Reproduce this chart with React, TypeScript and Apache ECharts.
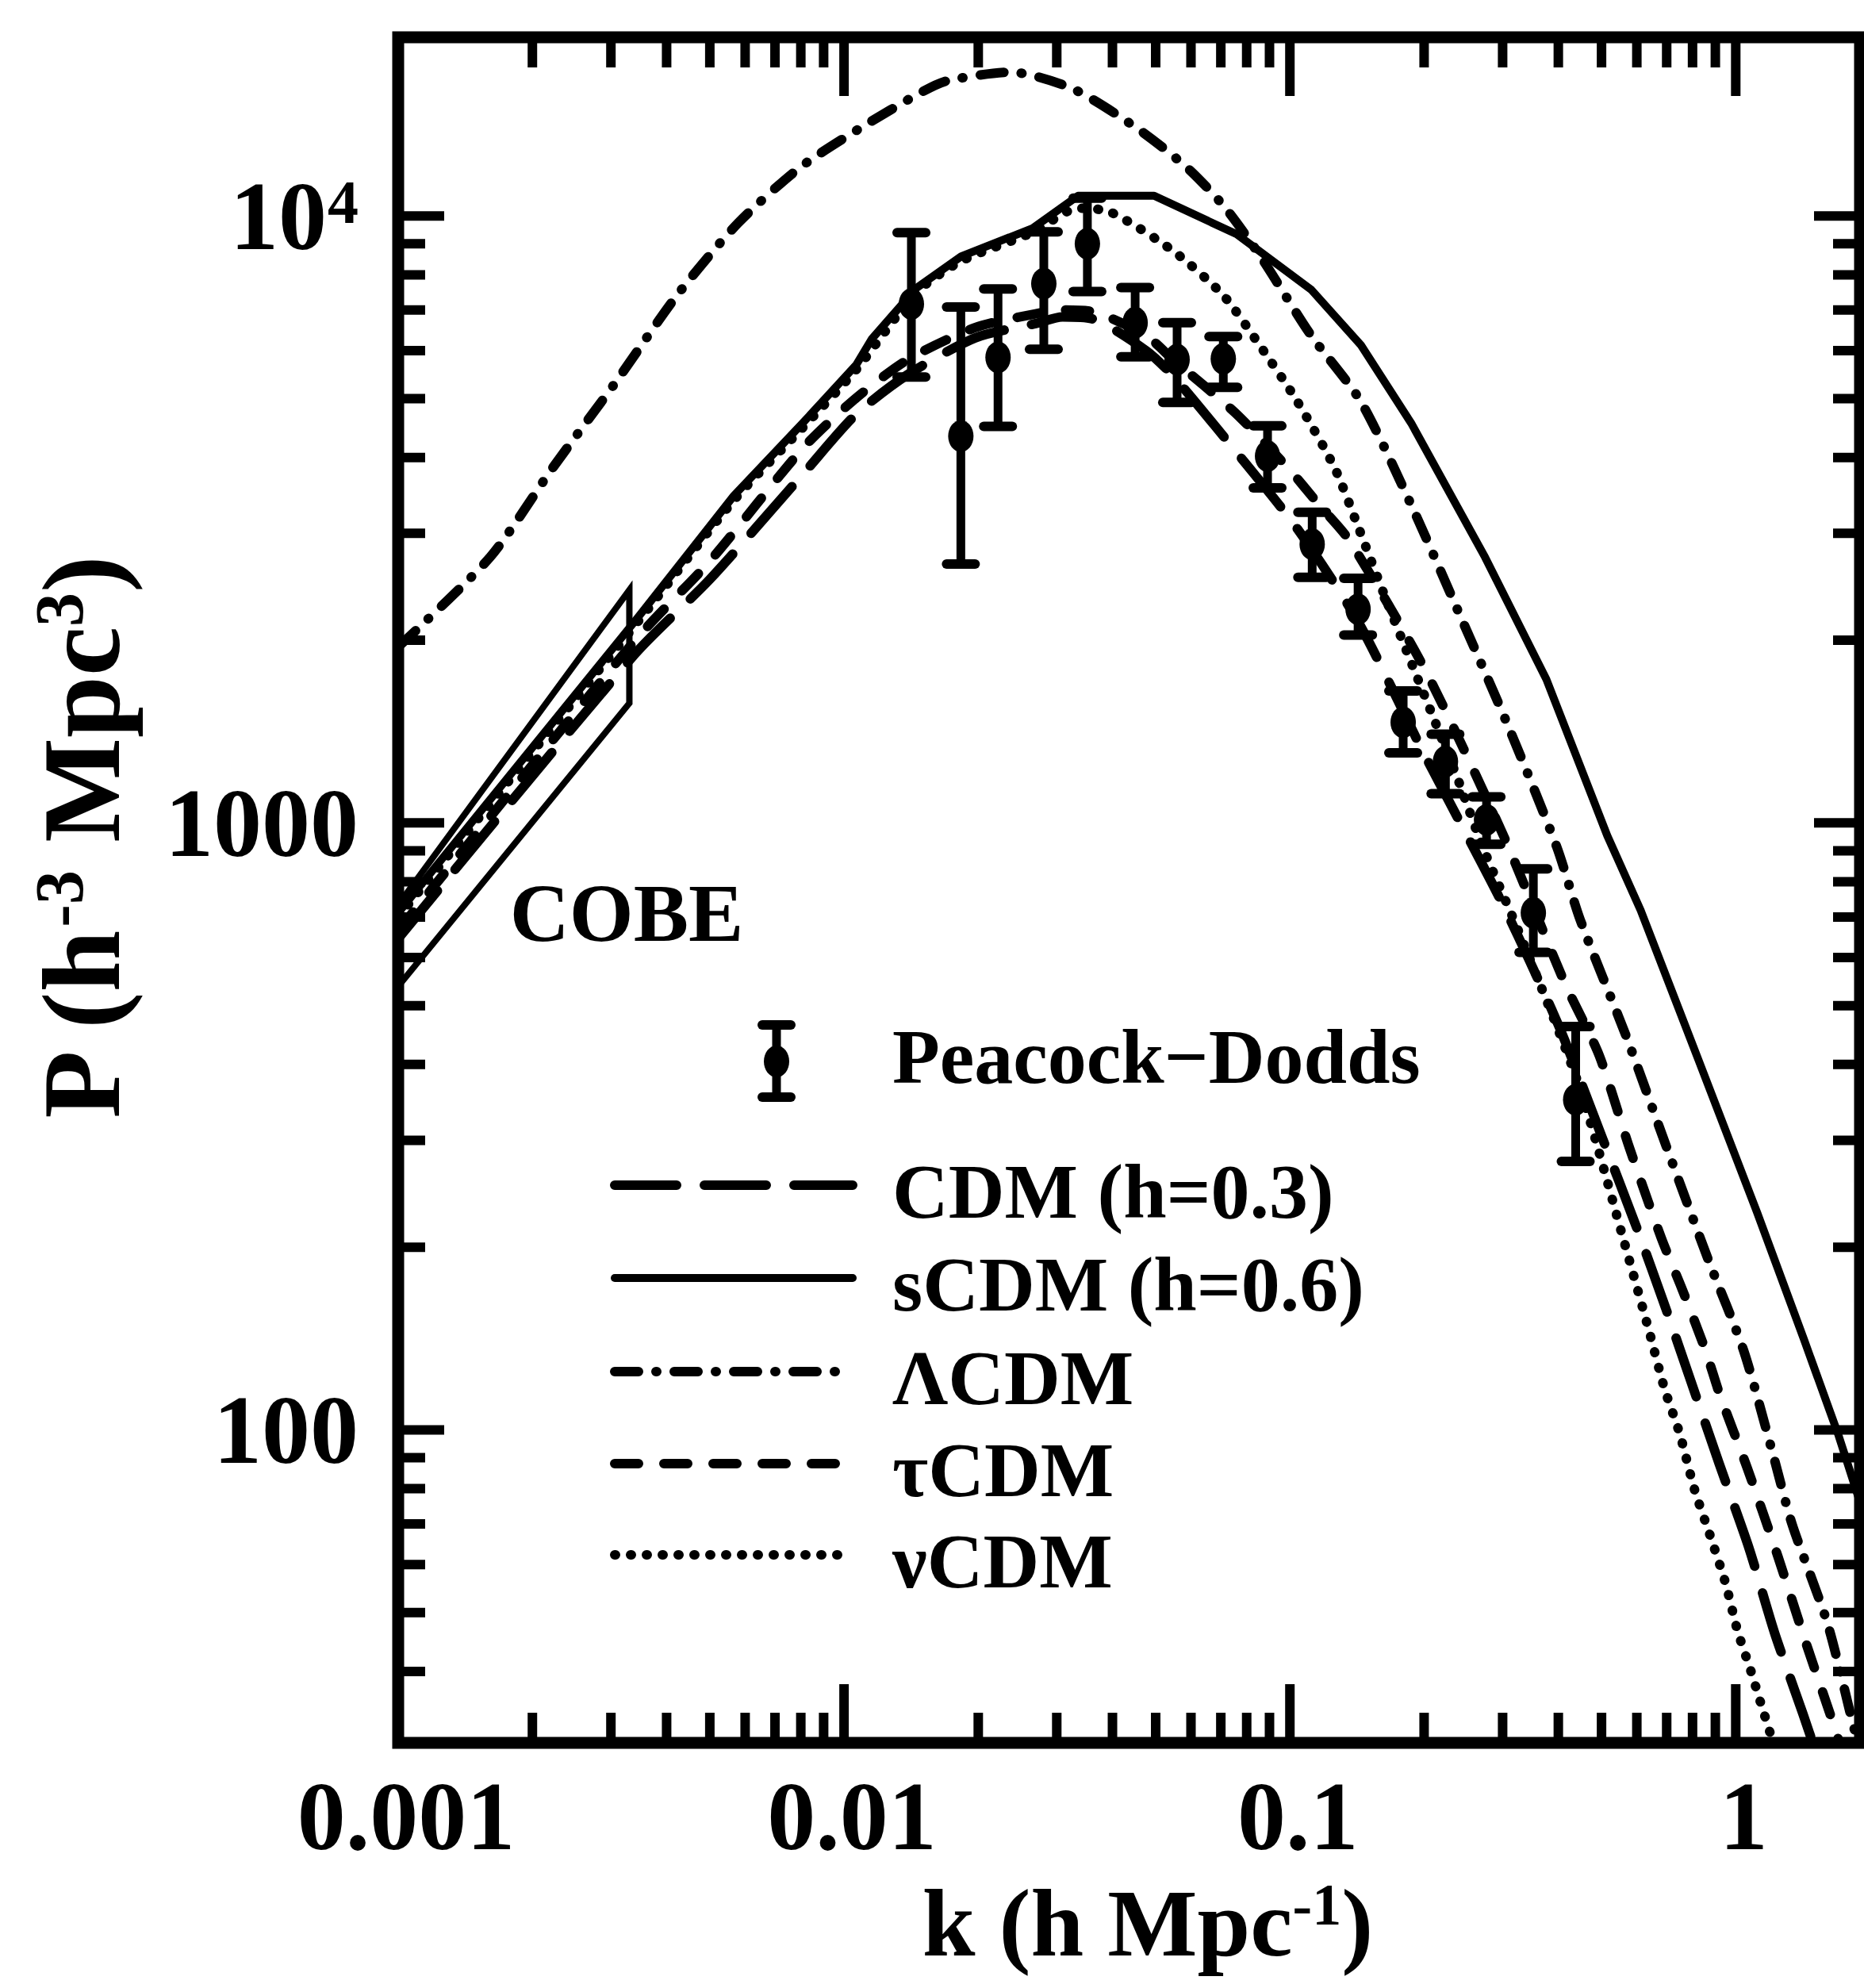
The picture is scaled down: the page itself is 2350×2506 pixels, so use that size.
import React, { useEffect, useRef } from 'react';
import * as echarts from 'echarts';

const FONT = '"Liberation Serif", "Times New Roman", serif';

// ---- axis ranges ----
const X_MIN = 0.001;
const X_MAX = 1.9;
const Y_MIN = 30.5;
const Y_MAX = 19700;

// ---- ticks and tick labels ----
const xMajorTicks = [0.001, 0.01, 0.1, 1];
const xMajorLabels = ['0.001', '0.01', '0.1', '1'];
const xMinorTicks = [0.002, 0.003, 0.004, 0.005, 0.006, 0.007, 0.008, 0.009, 0.02, 0.03, 0.04, 0.05, 0.06, 0.07, 0.08, 0.09, 0.2, 0.3, 0.4, 0.5, 0.6, 0.7, 0.8, 0.9];
const yMajorTicks = [100, 1000, 10000];
const yMajorLabelBase = ['100', '1000', '10'];
const yMajorLabelExp = ['', '', '4'];
const yMinorTicks = [40, 50, 60, 70, 80, 90, 200, 300, 400, 500, 600, 700, 800, 900, 2000, 3000, 4000, 5000, 6000, 7000, 8000, 9000];

// ---- Peacock-Dodds data points ----
const pdK = [0.01416, 0.01828, 0.02215, 0.02806, 0.03514, 0.04497, 0.05585, 0.0709, 0.0891, 0.1122, 0.1422, 0.1795, 0.2233, 0.2761, 0.3516, 0.4375];
const pdP = [7160, 4340, 5850, 7740, 9000, 6670, 5800, 5820, 4020, 2880, 2250, 1465, 1262, 1012, 711, 350];
const pdLo = [5430, 2670, 4500, 6030, 7510, 5860, 4930, 5220, 3565, 2540, 2040, 1305, 1117, 922, 612, 277];
const pdHi = [9390, 7080, 7580, 9420, 10700, 7620, 6670, 6330, 4510, 3250, 2530, 1650, 1400, 1104, 840, 462];

// ---- COBE box ----
const cobeK = [0.001, 0.0033, 0.0033, 0.001];
const cobeP = [733, 2420, 1575, 538];

// ---- model curves ----
const sCdmK = [0.001, 0.00344, 0.00566, 0.00808, 0.01064, 0.01154, 0.01453, 0.01832, 0.02651, 0.0335, 0.0496, 0.076, 0.1117, 0.1445, 0.187, 0.274, 0.376, 0.515, 0.612, 0.828, 1.117, 1.422, 1.70, 1.9];
const sCdmP = [711, 2175, 3460, 4560, 5680, 6270, 7610, 8580, 9550, 10800, 10800, 9330, 7560, 6120, 4560, 2740, 1725, 953, 718, 404, 228, 141, 98, 76];

const lCdmK = [0.001, 0.001607, 0.002223, 0.00305, 0.00422, 0.00578, 0.00794, 0.01089, 0.01493, 0.01702, 0.02364, 0.03267, 0.04535, 0.05875, 0.0712, 0.0859, 0.1112, 0.1439, 0.1858, 0.2393, 0.3073, 0.3966, 0.448, 0.568, 0.700, 0.867, 1.042, 1.208, 1.337, 1.607, 1.833, 1.9];
const lCdmP = [1950, 2740, 3850, 5280, 7400, 9730, 12000, 13970, 16000, 16700, 17260, 16190, 13960, 12020, 10370, 8580, 6380, 4960, 3380, 2220, 1456, 914, 692, 445, 292, 191, 135, 92, 70, 47.9, 32.7, 29.5];

const nuCdmK = [0.001, 0.00344, 0.00566, 0.00808, 0.01064, 0.01453, 0.01832, 0.02651, 0.0335, 0.0396, 0.0547, 0.0709, 0.0856, 0.1037, 0.1259, 0.1429, 0.163, 0.185, 0.21, 0.238, 0.2705, 0.3266, 0.4446, 0.561, 0.64, 0.692, 0.748, 0.808, 0.877, 0.948, 1.009, 1.082, 1.136, 1.202, 1.26];
const nuCdmP = [700, 2140, 3400, 4480, 5580, 7480, 8430, 9400, 10300, 10150, 8760, 7400, 6120, 4960, 3850, 3050, 2370, 1877, 1489, 1181, 914, 660, 370, 205, 145, 117, 98.8, 79.8, 66.8, 56, 46.7, 40, 35.6, 31.2, 28];

const cdmK = [0.001, 0.0034, 0.005, 0.0081, 0.0106, 0.0139, 0.0197, 0.0269, 0.0309, 0.0363, 0.0476, 0.0547, 0.0776, 0.104, 0.142, 0.2, 0.3, 0.4, 0.5, 0.6, 0.7, 0.794, 0.918, 1.072, 1.222, 1.416, 1.6];
const cdmP = [645, 1900, 2520, 3760, 4700, 5480, 6300, 6650, 6820, 6760, 6000, 5450, 4000, 3050, 2150, 1300, 735, 465, 305, 215, 157, 120, 88, 63.7, 46.3, 34, 26];

const tauCdmK = [0.001, 0.0034, 0.005, 0.0081, 0.0106, 0.0139, 0.0197, 0.0269, 0.0309, 0.0363, 0.0476, 0.0547, 0.0754, 0.0995, 0.1164, 0.1355, 0.2, 0.3, 0.413, 0.494, 0.578, 0.681, 0.757, 0.853, 0.922, 1.059, 1.242, 1.435, 1.683, 1.85];
const tauCdmP = [665, 2000, 2700, 4150, 5000, 5800, 6550, 6900, 7000, 6950, 6350, 5800, 4740, 3830, 3340, 2930, 1800, 960, 546, 414, 291, 207, 171, 136, 114, 86.9, 62, 44.7, 31.6, 25];

// ---- legend ----
const legendLabels = ['CDM (h=0.3)', 'sCDM (h=0.6)', 'ΛCDM', 'τCDM', 'νCDM'];
const pdLabel = 'Peacock−Dodds';

const DASH_CDM = [78, 35];
const DASH_L = [30, 22, 1, 22];
const DASH_TAU = [30, 32];
const DASH_NU = [1, 19];

function pairs(ks: number[], ps: number[]) {
  return ks.map((k, i) => [k, ps[i]]);
}

function lineSeries(name: string, ks: number[], ps: number[], width: number, type: any, smooth: number | boolean) {
  return {
    type: 'line',
    name,
    data: pairs(ks, ps),
    showSymbol: false,
    symbol: 'none',
    smooth,
    silent: true,
    clip: true,
    z: 3,
    lineStyle: { color: '#000', width, type, cap: 'round', join: 'round' },
  };
}

function buildOption() {
  const tickStyle = { stroke: '#000', lineWidth: 12 };
  const textBase = { fill: '#000', fontFamily: FONT, fontWeight: 'bold' };

  const series: any[] = [
    {
      type: 'line',
      name: 'COBE',
      data: pairs(cobeK, cobeP),
      showSymbol: false,
      symbol: 'none',
      silent: true,
      z: 3,
      lineStyle: { color: '#000', width: 8, join: 'miter' },
    },
    lineSeries('ΛCDM', lCdmK, lCdmP, 12, DASH_L, 0.25),
    lineSeries('νCDM', nuCdmK, nuCdmP, 12, DASH_NU, 0.25),
    lineSeries('τCDM', tauCdmK, tauCdmP, 12, DASH_TAU, 0.25),
    lineSeries('CDM (h=0.3)', cdmK, cdmP, 12, DASH_CDM, 0.25),
    lineSeries('sCDM (h=0.6)', sCdmK, sCdmP, 10, 'solid', false),
    {
      type: 'custom',
      name: 'Peacock-Dodds',
      coordinateSystem: 'cartesian2d',
      silent: true,
      clip: false,
      z: 5,
      data: pdK.map((k, i) => [k, pdP[i], pdLo[i], pdHi[i]]),
      encode: { x: 0, y: [1, 2, 3] },
      renderItem: (params: any, api: any) => {
        const k = api.value(0);
        const c = api.coord([k, api.value(1)]);
        const lo = api.coord([k, api.value(2)]);
        const hi = api.coord([k, api.value(3)]);
        return {
          type: 'group',
          children: [
            { type: 'line', shape: { x1: c[0], y1: hi[1], x2: c[0], y2: lo[1] }, style: { stroke: '#000', lineWidth: 11 } },
            { type: 'line', shape: { x1: c[0] - 18, y1: hi[1], x2: c[0] + 18, y2: hi[1] }, style: { stroke: '#000', lineWidth: 12, lineCap: 'round' } },
            { type: 'line', shape: { x1: c[0] - 18, y1: lo[1], x2: c[0] + 18, y2: lo[1] }, style: { stroke: '#000', lineWidth: 12, lineCap: 'round' } },
            { type: 'ellipse', shape: { cx: c[0], cy: c[1], rx: 16, ry: 20 }, style: { fill: '#000' } },
          ],
        };
      },
    },
    {
      type: 'custom',
      coordinateSystem: 'cartesian2d',
      silent: true,
      clip: false,
      z: 6,
      data: xMinorTicks.map((v) => [v, 1000, 0]).concat(xMajorTicks.map((v) => [v, 1000, 1])),
      encode: { x: 0, y: 1 },
      renderItem: (params: any, api: any) => {
        const v = api.value(0);
        const major = api.value(2) === 1;
        const b = api.coord([v, Y_MIN]);
        const t = api.coord([v, Y_MAX]);
        const len = major ? 74 : 38;
        return {
          type: 'group',
          children: [
            { type: 'line', shape: { x1: b[0], y1: b[1], x2: b[0], y2: b[1] - len }, style: tickStyle },
            { type: 'line', shape: { x1: t[0], y1: t[1], x2: t[0], y2: t[1] + len }, style: tickStyle },
          ],
        };
      },
    },
    {
      type: 'custom',
      coordinateSystem: 'cartesian2d',
      silent: true,
      clip: false,
      z: 6,
      data: yMinorTicks.map((v) => [0.01, v, 0]).concat(yMajorTicks.map((v) => [0.01, v, 1])),
      encode: { x: 0, y: 1 },
      renderItem: (params: any, api: any) => {
        const v = api.value(1);
        const major = api.value(2) === 1;
        const l = api.coord([X_MIN, v]);
        const r = api.coord([X_MAX, v]);
        const len = major ? 58 : 34;
        return {
          type: 'group',
          children: [
            { type: 'line', shape: { x1: l[0], y1: l[1], x2: l[0] + len, y2: l[1] }, style: tickStyle },
            { type: 'line', shape: { x1: r[0], y1: r[1], x2: r[0] - len, y2: r[1] }, style: tickStyle },
          ],
        };
      },
    },
    {
      type: 'custom',
      coordinateSystem: 'cartesian2d',
      silent: true,
      clip: false,
      z: 6,
      data: xMajorTicks.map((v) => [v, 1000]),
      encode: { x: 0, y: 1 },
      renderItem: (params: any, api: any) => {
        const b = api.coord([api.value(0), Y_MIN]);
        return {
          type: 'text',
          x: b[0] + 10,
          y: b[1] + 92,
          style: { ...textBase, text: xMajorLabels[params.dataIndex], fontSize: 122, align: 'center', verticalAlign: 'middle' },
        };
      },
    },
    {
      type: 'custom',
      coordinateSystem: 'cartesian2d',
      silent: true,
      clip: false,
      z: 6,
      data: yMajorTicks.map((v) => [0.01, v]),
      encode: { x: 0, y: 1 },
      renderItem: (params: any, api: any) => {
        const i = params.dataIndex;
        const l = api.coord([X_MIN, api.value(1)]);
        const exp = yMajorLabelExp[i];
        const right = l[0] - 50;
        const children: any[] = [
          {
            type: 'text',
            x: exp ? right - 40 : right,
            y: l[1],
            style: { ...textBase, text: yMajorLabelBase[i], fontSize: 122, align: 'right', verticalAlign: 'middle' },
          },
        ];
        if (exp) {
          children.push({
            type: 'text',
            x: right,
            y: l[1] - 18,
            style: { ...textBase, text: exp, fontSize: 78, align: 'right', verticalAlign: 'middle' },
          });
        }
        return { type: 'group', children };
      },
    },
  ];

  const lx1 = 775;
  const lx2 = 1075;
  const tx = 1125;
  const rowY = [1494, 1611, 1729, 1845, 1960];
  const rowDash: any[] = [DASH_CDM, null, DASH_L, DASH_TAU, DASH_NU];
  const rowWidth = [12, 10, 12, 12, 12];
  const legendChildren: any[] = [];
  const sx = 979;
  legendChildren.push(
    { type: 'line', shape: { x1: sx, y1: 1292, x2: sx, y2: 1383 }, style: { stroke: '#000', lineWidth: 11 } },
    { type: 'line', shape: { x1: sx - 18, y1: 1292, x2: sx + 18, y2: 1292 }, style: { stroke: '#000', lineWidth: 12, lineCap: 'round' } },
    { type: 'line', shape: { x1: sx - 18, y1: 1383, x2: sx + 18, y2: 1383 }, style: { stroke: '#000', lineWidth: 12, lineCap: 'round' } },
    { type: 'ellipse', shape: { cx: sx, cy: 1338, rx: 16, ry: 20 }, style: { fill: '#000' } },
    { type: 'text', x: tx, y: 1332, style: { ...textBase, text: pdLabel, fontSize: 98, align: 'left', verticalAlign: 'middle' } },
  );
  legendLabels.forEach((lab, i) => {
    const st: any = { stroke: '#000', lineWidth: rowWidth[i], lineCap: 'round' };
    if (rowDash[i]) st.lineDash = rowDash[i];
    legendChildren.push(
      { type: 'line', shape: { x1: lx1, y1: rowY[i], x2: lx2, y2: rowY[i] }, style: st },
      { type: 'text', x: tx, y: rowY[i] + 8, style: { ...textBase, text: lab, fontSize: 98, align: 'left', verticalAlign: 'middle' } },
    );
  });

  const graphic: any[] = [
    { type: 'group', children: legendChildren },
    {
      type: 'text',
      x: 790,
      y: 1150,
      style: { ...textBase, text: 'COBE', fontSize: 104, align: 'center', verticalAlign: 'middle' },
    },
    {
      type: 'text',
      x: 1447,
      y: 2424,
      style: {
        ...textBase,
        text: 'k (h Mpc{sup|-1})',
        fontSize: 120,
        align: 'center',
        verticalAlign: 'middle',
        rich: { sup: { fontSize: 74, fontFamily: FONT, fontWeight: 'bold', lineHeight: 74, verticalAlign: 'top', fill: '#000' } },
      },
    },
    {
      type: 'text',
      x: 102,
      y: 1057,
      rotation: Math.PI / 2,
      style: {
        ...textBase,
        text: 'P (h{sup|-3} Mpc{sup|3})',
        fontSize: 140,
        align: 'center',
        verticalAlign: 'middle',
        rich: { sup: { fontSize: 86, fontFamily: FONT, fontWeight: 'bold', lineHeight: 86, verticalAlign: 'top', fill: '#000' } },
      },
    },
  ];

  return {
    animation: false,
    backgroundColor: '#fff',
    grid: {
      left: 502,
      top: 47,
      width: 1843,
      height: 2150,
      show: true,
      borderWidth: 15,
      borderColor: '#000',
      backgroundColor: 'rgba(0,0,0,0)',
      containLabel: false,
    },
    xAxis: {
      type: 'log',
      logBase: 10,
      min: X_MIN,
      max: X_MAX,
      axisLine: { show: false },
      axisTick: { show: false },
      axisLabel: { show: false },
      splitLine: { show: false },
    },
    yAxis: {
      type: 'log',
      logBase: 10,
      min: Y_MIN,
      max: Y_MAX,
      axisLine: { show: false },
      axisTick: { show: false },
      axisLabel: { show: false },
      splitLine: { show: false },
    },
    series,
    graphic,
  };
}

export default function App() {
  const ref = useRef<HTMLDivElement>(null);
  useEffect(() => {
    if (!ref.current) return;
    const chart = echarts.init(ref.current, null, { renderer: 'svg' });
    chart.setOption(buildOption() as any);
    return () => chart.dispose();
  }, []);
  return (
    <div
      ref={ref}
      style={{ position: 'absolute', left: 0, top: 0, width: 2350, height: 2506, background: '#fff' }}
    />
  );
}
